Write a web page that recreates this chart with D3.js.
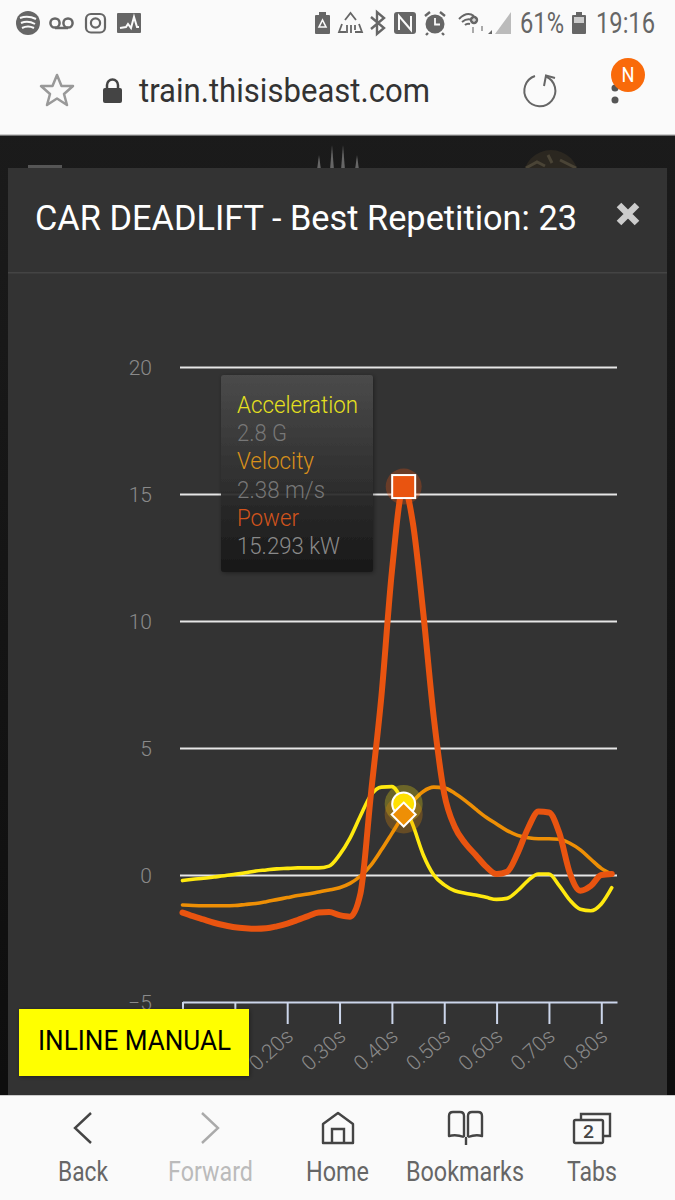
<!DOCTYPE html>
<html>
<head>
<meta charset="utf-8">
<script src="https://cdn.jsdelivr.net/npm/d3@7"></script>
<style>
  html, body { margin: 0; padding: 0; background: #1a1a1a; }
  svg { display: block; font-family: Roboto, sans-serif; }
</style>
</head>
<body>
<div id="chart"></div>
<script>
const times = [0, .02, .04, .06, .08, .10, .12, .14, .16, .18, .20, .22, .24, .26, .28, .30, .32, .34, .36, .38, .40,
               .4225, .44, .46, .48, .50, .52, .54, .56, .58, .60, .62, .64, .66, .68, .70, .72, .74, .76, .78, .80, .82]
const acceleration = [-.22, -.17, -.13, -.08, -.03, .03, .09, .16, .2, .24, .26, .28, .28, .28, .35, .79, 1.45, 2.33, 3.15, 3.46, 3.48,
                      2.8, 1.97, .79, 0, -.39, -.62, -.72, -.79, -.88, -.96, -.92, -.62, -.22, .04, .04, -.43, -.99, -1.35, -1.41, -1.14, -.5]
const velocity = [-1.18, -1.2, -1.21, -1.21, -1.21, -1.2, -1.16, -1.12, -1.05, -.97, -.89, -.81, -.75, -.67, -.59, -.5, -.33, -.04, .39, .99, 1.64,
                  2.38, 2.89, 3.29, 3.46, 3.43, 3.22, 2.93, 2.59, 2.27, 2.01, 1.75, 1.56, 1.47, 1.43, 1.43, 1.41, 1.25, .99, .62, .26, .03]
const power = [-1.48, -1.62, -1.75, -1.88, -1.98, -2.06, -2.1, -2.12, -2.1, -2.02, -1.91, -1.77, -1.62, -1.48, -1.46, -1.58, -1.64, -.72, 3.2, 7.05, 11.95,
               15.293, 13.87, 10.3, 6.2, 3.2, 1.9, 1.25, .79, .33, .04, .13, .85, 1.84, 2.5, 2.46, 1.64, .07, -.62, -.43, 0, .04]
const yTicks = [-5, 0, 5, 10, 15, 20]
const xTicks = [0, .1, .2, .3, .4, .5, .6, .7, .8]
const hoverIndex = 21
const tooltipRows = [['Acceleration', '#e6e01e', 121], ['2.8 G', '#777', 50], ['Velocity', '#d9901a', 77],
                     ['2.38 m/s', '#777', 88], ['Power', '#d2541c', 62], ['15.293 kW', '#8a8a8a', 103]]
const navLabels = [['Back', 58, 50, '#666'], ['Forward', 168, 85, '#bbb'], ['Home', 306, 63, '#666'], ['Bookmarks', 406, 118, '#666'], ['Tabs', 567, 50, '#666']]

const svg = d3.select('#chart').append('svg').attr('width', 675).attr('height', 1200)
const defs = svg.append('defs')
const iconGrey = '#666'

// helper: text squeezed to the width it has on the phone screenshot
const label = (str, px, py, size, fill, width, weight) => {
    const t = svg.append('text').attr('x', px).attr('y', py).attr('font-size', size).attr('fill', fill).text(str)
    if (width) t.attr('textLength', width).attr('lengthAdjust', 'spacingAndGlyphs')
    if (weight) t.attr('font-weight', weight)
    return t
}
// helper: outlined icon path
const stroke = (d, color, w) => svg.append('path').attr('d', d).attr('fill', 'none').attr('stroke', color).attr('stroke-width', w)
const solid = (d, color) => svg.append('path').attr('d', d).attr('fill', color)

//page behind the modal
const pageGrad = defs.append('linearGradient').attr('id', 'page').attr('x1', 0).attr('y1', 0).attr('x2', 0).attr('y2', 1)
pageGrad.append('stop').attr('offset', .1).attr('stop-color', '#1b1b1b')
pageGrad.append('stop').attr('offset', .9).attr('stop-color', '#0e0e0e')
svg.append('rect').attr('width', 675).attr('height', 1200).attr('fill', 'url(#page)')
svg.append('rect').attr('x', 28).attr('y', 165).attr('width', 34).attr('height', 4).attr('fill', '#555')
svg.selectAll('.spike').data([[317, 155], [330, 145], [341, 145], [355, 155]]).join('path')
    .attr('d', d => `M${d[0]} 170L${d[0] + 2} ${d[1]}L${d[0] + 4} 170Z`).attr('fill', '#666')
svg.append('circle').attr('cx', 551).attr('cy', 178).attr('r', 28).attr('fill', '#2b2720')
stroke('M526 168L537 162L545 166M560 160L570 165L576 168M548 155L552 163', '#4a4436', 3)

//modal
svg.append('rect').attr('x', 8).attr('y', 168).attr('width', 659).attr('height', 930).attr('fill', '#333')
svg.append('rect').attr('x', 8).attr('y', 272).attr('width', 659).attr('height', 1.5).attr('fill', '#444')
label('CAR DEADLIFT - Best Repetition: 23', 35, 230, 34.5, '#fff', 542)
stroke('M619 205L637 223M637 205L619 223', '#ccc', 6.5)

//scales
const x = d3.scaleLinear().domain([0, .83]).range([182.5, 617])
const y = d3.scaleLinear().domain([-5, 20]).range([1002, 367])

//grid and y labels
const yAxis = svg.append('g').attr('class', 'y-axis').attr('transform', 'translate(180,0)')
    .call(d3.axisRight(y).tickValues(yTicks.filter(d => d > -5)).tickSize(437).tickFormat(''))
yAxis.select('.domain').remove()
yAxis.selectAll('line').attr('stroke', '#e6e6e6').attr('stroke-width', 2)

const yLabels = svg.append('g').attr('transform', 'translate(152,0)')
    .call(d3.axisLeft(y).tickValues(yTicks).tickSize(0).tickPadding(0).tickFormat(d => d < 0 ? '\u2212' + Math.abs(d) : d))
yLabels.select('.domain').remove()
yLabels.selectAll('text').attr('font-size', 21).attr('font-family', 'Roboto').attr('font-weight', 300).attr('fill', '#8a8a8a').attr('dy', '.38em')

//x axis
const xAxis = svg.append('g').attr('transform', `translate(0,${y(-5)})`)
    .call(d3.axisBottom(x).tickValues(xTicks).tickSize(22).tickSizeOuter(0).tickFormat(d => d3.format('.2f')(d) + 's'))
xAxis.select('.domain').attr('stroke', '#ccd6eb').attr('stroke-width', 2)
xAxis.selectAll('line').attr('stroke', '#ccd6eb').attr('stroke-width', 2)
xAxis.selectAll('text')
    .attr('font-size', 21).attr('font-family', 'Roboto').attr('font-weight', 300).attr('fill', '#8a8a8a')
    .attr('text-anchor', 'end').attr('x', 0).attr('y', 0).attr('dy', 0)
    .attr('transform', 'translate(7,36) rotate(-42)')

//series
const line = d3.line().x((d, i) => x(times[i])).y(d => y(d)).curve(d3.curveMonotoneX)
const series = [[velocity, '#ee8f05', 3.6], [acceleration, '#ffe90f', 3.6], [power, '#e95410', 6]]
svg.selectAll('.series').data(series).join('path')
    .attr('class', 'series')
    .attr('d', d => line(d[0]))
    .attr('fill', 'none')
    .attr('stroke', d => d[1])
    .attr('stroke-width', d => d[2])
    .attr('stroke-linecap', 'round')

//hover markers
const hx = x(times[hoverIndex])
svg.append('circle').attr('cx', hx).attr('cy', y(acceleration[hoverIndex])).attr('r', 19).attr('fill', '#ffe90f').attr('opacity', .28)
svg.append('circle').attr('cx', hx).attr('cy', y(velocity[hoverIndex])).attr('r', 19).attr('fill', '#ee8f05').attr('opacity', .28)
svg.append('circle').attr('cx', hx).attr('cy', y(power[hoverIndex])).attr('r', 18).attr('fill', '#e95410').attr('opacity', .3)
svg.append('circle').attr('cx', hx).attr('cy', y(acceleration[hoverIndex])).attr('r', 11.5).attr('fill', '#ffe000').attr('stroke', '#fff').attr('stroke-width', 2)
svg.append('path').attr('transform', `translate(${hx},${y(velocity[hoverIndex])})`)
    .attr('d', 'M0 -12L12 0L0 12L-12 0Z').attr('fill', '#ee8f05').attr('stroke', '#fff').attr('stroke-width', 2)
svg.append('rect').attr('x', hx - 11.5).attr('y', y(power[hoverIndex]) - 11.5).attr('width', 23).attr('height', 23)
    .attr('fill', '#e95410').attr('stroke', '#fff').attr('stroke-width', 2)

//tooltip
const grad = defs.append('linearGradient').attr('id', 'tip').attr('x1', 0).attr('y1', 0).attr('x2', 0).attr('y2', 1)
grad.append('stop').attr('offset', 0).attr('stop-color', '#4d4d4d')
grad.append('stop').attr('offset', 1).attr('stop-color', '#161616')
const shadow = defs.append('filter').attr('id', 'soft').attr('x', '-10%').attr('y', '-10%').attr('width', '120%').attr('height', '120%')
shadow.append('feDropShadow').attr('dx', 1).attr('dy', 1).attr('stdDeviation', 2).attr('flood-color', '#000').attr('flood-opacity', .4)
svg.append('rect').attr('x', 221).attr('y', 375).attr('width', 152).attr('height', 197).attr('rx', 3)
    .attr('fill', 'url(#tip)').attr('opacity', .93).attr('filter', 'url(#soft)')
tooltipRows.forEach((r, i) => label(r[0], 237, 413 + i * 28.2, 24.5, r[1], r[2], 300))

//inline manual button
svg.append('rect').attr('x', 19).attr('y', 1009).attr('width', 230).attr('height', 67).attr('fill', '#ff0').attr('filter', 'url(#soft)')
label('INLINE MANUAL', 38, 1050, 27, '#000', 193)

//top browser bars
svg.append('rect').attr('width', 675).attr('height', 134).attr('fill', '#fafafa')
svg.append('rect').attr('y', 134).attr('width', 675).attr('height', 1.5).attr('fill', '#ccc')

//status bar, left icons
svg.append('circle').attr('cx', 28).attr('cy', 23).attr('r', 12).attr('fill', iconGrey)
stroke('M20 18Q28 15 36 19M21 23Q28 20 35 24M22 28Q28 25 34 28', '#fafafa', 2)
stroke('M55 28H68', iconGrey, 2.5)
svg.selectAll('.vm').data([55, 68]).join('circle').attr('cx', d => d).attr('cy', 23).attr('r', 4.6)
    .attr('fill', 'none').attr('stroke', iconGrey).attr('stroke-width', 2.5)
svg.append('rect').attr('x', 86).attr('y', 14).attr('width', 19).attr('height', 18.5).attr('rx', 5)
    .attr('fill', 'none').attr('stroke', iconGrey).attr('stroke-width', 2.2)
svg.append('circle').attr('cx', 95.5).attr('cy', 23).attr('r', 4.6).attr('fill', 'none').attr('stroke', iconGrey).attr('stroke-width', 2.2)
svg.append('rect').attr('x', 117).attr('y', 13).attr('width', 24).attr('height', 20).attr('rx', 1).attr('fill', iconGrey)
stroke('M120 28L126 27L128 24L131 28L134 17L137 27H139', '#fafafa', 2)

//status bar, right icons
svg.append('rect').attr('x', 315).attr('y', 15).attr('width', 15).attr('height', 19).attr('rx', 1).attr('fill', iconGrey)
svg.append('rect').attr('x', 319).attr('y', 12).attr('width', 7).attr('height', 3).attr('fill', iconGrey)
stroke('M322.5 20L319 27H326Z', '#fafafa', 1.6)
stroke('M345 20L350.500 13L356 20M342 24L339 32H346M359 24L362 32H355M347 25V33M351 25V33M355 25V30', iconGrey, 1.8)
stroke('M371 17L384 28L377 34V12L384 18L371 29', iconGrey, 2.4)
svg.append('rect').attr('x', 394).attr('y', 12).attr('width', 22).attr('height', 22).attr('rx', 3).attr('fill', iconGrey)
stroke('M399 30V16L411 30V16', '#fafafa', 2)
svg.append('circle').attr('cx', 435).attr('cy', 24).attr('r', 9.5).attr('fill', iconGrey)
stroke('M425 16L430 12M445 16L440 12M428 33L426 35M442 33L444 35', iconGrey, 2.4)
stroke('M435 18V24.5H440', '#fafafa', 1.8)
stroke('M459 19Q467 11 474 16M462 22Q467 18 472 20M465 25Q467 23 470 24', iconGrey, 2)
svg.append('circle').attr('cx', 474).attr('cy', 20).attr('r', 4.2).attr('fill', iconGrey)
stroke('M472 20H476M474 18V22', '#fafafa', 1)
stroke('M473 27V33M482 26V31', '#aaa', 2)
solid('M511 12V34H495Z', '#bbb')
solid('M488 34L492 30V34Z', iconGrey)
label('61%', 520, 33, 29, iconGrey, 44)
svg.append('rect').attr('x', 572).attr('y', 15).attr('width', 14).attr('height', 19).attr('rx', 1).attr('fill', iconGrey)
svg.append('rect').attr('x', 576).attr('y', 12).attr('width', 6).attr('height', 3).attr('fill', iconGrey)
svg.append('rect').attr('x', 574).attr('y', 17).attr('width', 10).attr('height', 6).attr('fill', '#ccc')
label('19:16', 596, 33, 29, iconGrey, 59)

//address bar
solid('M57 75L61.500 86H73L64 94L67 105L57 98.500L47 105L50 94L41 86H52.500Z', 'none')
    .attr('stroke', '#999').attr('stroke-width', 2.5).attr('stroke-linejoin', 'round')
svg.append('rect').attr('x', 103).attr('y', 88).attr('width', 19).attr('height', 15).attr('rx', 2).attr('fill', '#444')
stroke('M107 88V85A5.500 5.500 0 0 1 118 85V88', '#444', 2.5)
label('train.thisisbeast.com', 139, 102, 34, '#333', 291)
stroke('M535 76A15.500 15.500 0 1 0 546 76.500', '#666', 2)
stroke('M544 86L546 75.500L555 78', '#666', 2)
svg.selectAll('.dots').data([88, 100]).join('circle').attr('cx', 615).attr('cy', d => d).attr('r', 3.5).attr('fill', '#555')
svg.append('circle').attr('cx', 628).attr('cy', 75).attr('r', 17).attr('fill', '#f96a0a')
label('N', 621.500, 82, 20, '#fff', 13)

//bottom navigation
svg.append('rect').attr('y', 1095).attr('width', 675).attr('height', 105).attr('fill', '#fafafa')
svg.append('rect').attr('y', 1095).attr('width', 675).attr('height', 1).attr('fill', '#ccc')
stroke('M91 1113L75 1128L91 1143', '#444', 2.4)
stroke('M202 1113L218 1128L202 1143', '#aaa', 2.4)
stroke('M323 1143V1124L338 1113L353 1124V1143Z', '#444', 2.4).attr('stroke-linejoin', 'round')
stroke('M332 1143V1129H344V1143', '#444', 2.4)
stroke('M464 1137Q456 1134 449 1136V1116Q449 1112 453 1112H460Q464 1112 464 1116V1137M468 1137Q476 1134 482 1136V1116Q482 1112 478 1112H472Q468 1112 468 1116V1137M466 1137V1145', '#444', 2.4).attr('stroke-linejoin', 'round')
svg.append('rect').attr('x', 574).attr('y', 1120).attr('width', 29).attr('height', 23).attr('rx', 1.500).attr('fill', 'none').attr('stroke', '#444').attr('stroke-width', 2.4)
stroke('M581 1120V1114H610V1136H603', '#444', 2.4)
label('2', 583, 1138, 18, '#444', 11, 500)
navLabels.forEach(d => label(d[0], d[1], 1181, 27, d[3], d[2]))
</script>
</body>
</html>
